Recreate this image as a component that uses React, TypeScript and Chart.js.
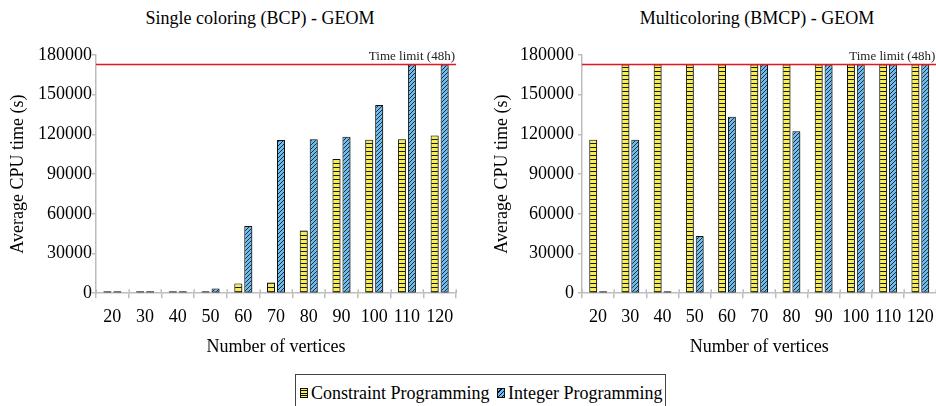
import React, { useEffect, useRef } from "react";
import { Chart, registerables } from "chart.js";

Chart.register(...registerables);

const FONT = "'Liberation Serif', 'Times New Roman', serif";

// ---- data ----
const vertices = ["20", "30", "40", "50", "60", "70", "80", "90", "100", "110", "120"];
const bcpConstraint = [40, 50, 60, 300, 7400, 8100, 47300, 101500, 116000, 116400, 119200];
const bcpInteger = [30, 40, 50, 3600, 50700, 115800, 116400, 118200, 142300, 172800, 172800];
const bmcpConstraint = [116000, 172800, 172800, 172800, 172800, 172800, 172800, 172800, 172800, 172800, 172800];
const bmcpInteger = [20, 116000, 20, 43200, 133400, 172800, 122300, 172800, 172800, 172800, 172800];
const yTicks = [0, 30000, 60000, 90000, 120000, 150000, 180000];
const timeLimit = 172800;
const timeLimitLabel = "Time limit (48h)";
const seriesNames = ["Constraint Programming", "Integer Programming"];
const panelTitles = ["Single coloring (BCP) - GEOM", "Multicoloring (BMCP) - GEOM"];

const YELLOW = "#f6ee52";
const BLUE = "#6fbdee";
const AXIS_GRAY = "#bdbdbd";

function makePattern(kind: "h" | "d"): CanvasPattern | string {
  const c = document.createElement("canvas");
  const s = 4;
  c.width = s;
  c.height = s;
  const g = c.getContext("2d");
  if (!g) return kind === "h" ? YELLOW : BLUE;
  if (kind === "h") {
    g.fillStyle = YELLOW;
    g.fillRect(0, 0, s, s);
    g.fillStyle = "rgba(0,0,0,0.9)";
    g.fillRect(0, 3, s, 1);
  } else {
    g.fillStyle = BLUE;
    g.fillRect(0, 0, s, s);
    g.strokeStyle = "rgba(0,0,0,0.85)";
    g.lineWidth = 0.9;
    g.beginPath();
    g.moveTo(-1, s + 1);
    g.lineTo(s + 1, -1);
    g.moveTo(-1, 1);
    g.lineTo(1, -1);
    g.moveTo(s - 1, s + 1);
    g.lineTo(s + 1, s - 1);
    g.stroke();
  }
  const p = g.createPattern(c, "repeat");
  return p || (kind === "h" ? YELLOW : BLUE);
}

const shadowPlugin = {
  id: "barShadow",
  beforeDatasetsDraw(chart: any) {
    const ctx = chart.ctx;
    ctx.save();
    ctx.shadowColor = "rgba(0,0,0,0.45)";
    ctx.shadowBlur = 2;
    ctx.shadowOffsetX = 1;
    ctx.shadowOffsetY = 1;
  },
  afterDatasetsDraw(chart: any) {
    chart.ctx.restore();
  },
};

const innerTickPlugin = {
  id: "innerTicks",
  afterDraw(chart: any) {
    const ctx = chart.ctx;
    const xs = chart.scales.x;
    const bottom = chart.chartArea.bottom;
    ctx.save();
    ctx.strokeStyle = AXIS_GRAY;
    ctx.lineWidth = 1.5;
    ctx.beginPath();
    for (let i = 0; i <= vertices.length; i++) {
      const x = Math.round(xs.getPixelForValue(i - 0.5)) + 0.25;
      ctx.moveTo(x, bottom - 4);
      ctx.lineTo(x, bottom);
    }
    ctx.stroke();
    ctx.restore();
  },
};

const limitPlugin = {
  id: "timeLimit",
  afterDatasetsDraw(chart: any) {
    const ctx = chart.ctx;
    const y = chart.scales.y.getPixelForValue(timeLimit);
    const { left, right } = chart.chartArea;
    ctx.save();
    ctx.strokeStyle = "#e4161c";
    ctx.lineWidth = 1.5;
    ctx.beginPath();
    ctx.moveTo(left, y);
    ctx.lineTo(right, y);
    ctx.stroke();
    ctx.font = `13px ${FONT}`;
    ctx.fillStyle = "#222";
    ctx.textAlign = "right";
    ctx.textBaseline = "alphabetic";
    ctx.fillText(timeLimitLabel, right - 1, y - 5);
    ctx.restore();
  },
};

type PanelProps = {
  cp: number[];
  ip: number[];
  left: number;
  width: number;
  padLeft: number;
  padRight: number;
  yTitlePad: { top: number; bottom: number };
  yTickPad: number;
};

function BarPanel(props: PanelProps) {
  const ref = useRef<HTMLCanvasElement>(null);
  useEffect(() => {
    if (!ref.current) return;
    const chart = new Chart(ref.current, {
      type: "bar",
      data: {
        labels: vertices,
        datasets: [
          {
            label: seriesNames[0],
            data: props.cp,
            backgroundColor: makePattern("h") as any,
            borderColor: "#111",
            borderWidth: 1,
            borderSkipped: false,
            minBarLength: 2,
          },
          {
            label: seriesNames[1],
            data: props.ip,
            backgroundColor: makePattern("d") as any,
            borderColor: "#111",
            borderWidth: 1,
            borderSkipped: false,
            minBarLength: 2,
          },
        ],
      },
      options: {
        animation: false,
        responsive: false,
        maintainAspectRatio: false,
        datasets: { bar: { categoryPercentage: 0.61, barPercentage: 0.8 } },
        layout: { padding: { top: 55, bottom: 0, left: props.padLeft, right: props.padRight } },
        plugins: {
          legend: { display: false },
          tooltip: { enabled: false },
          title: { display: false },
        },
        scales: {
          x: {
            offset: true,
            grid: { offset: true, drawOnChartArea: false, tickLength: 5, color: AXIS_GRAY, lineWidth: 1.5 },
            border: { color: AXIS_GRAY, width: 1.5 },
            ticks: {
              font: { family: FONT, size: 18 },
              color: "#000",
              padding: 8,
              maxRotation: 0,
              minRotation: 0,
              autoSkip: false,
            },
            title: {
              display: true,
              text: "Number of vertices",
              font: { family: FONT, size: 18 },
              color: "#000",
              padding: { top: 0.4, bottom: 2.2 },
            },
          },
          y: {
            min: 0,
            max: 180000,
            afterBuildTicks: (axis: any) => {
              axis.ticks = yTicks.map((v) => ({ value: v }));
            },
            grid: { drawOnChartArea: false, tickLength: 4, color: AXIS_GRAY, lineWidth: 1.5 },
            border: { color: AXIS_GRAY, width: 1.5 },
            ticks: {
              font: { family: FONT, size: 18 },
              color: "#000",
              padding: props.yTickPad,
              callback: (v: any) => String(v),
            },
            title: {
              display: true,
              text: "Average CPU time (s)",
              font: { family: FONT, size: 18 },
              color: "#000",
              padding: props.yTitlePad,
            },
          },
        },
      },
      plugins: [shadowPlugin, limitPlugin, innerTickPlugin],
    });
    return () => chart.destroy();
  }, []);
  return (
    <canvas
      ref={ref}
      width={props.width}
      height={360}
      style={{ position: "absolute", left: props.left, top: 0 }}
    />
  );
}

const swatchH = `repeating-linear-gradient(to bottom, ${YELLOW} 0px, ${YELLOW} 1.5px, #111 1.5px, #111 2.5px)`;
const swatchD = `repeating-linear-gradient(135deg, ${BLUE} 0px, ${BLUE} 2px, #111 2px, #111 3px)`;

export default function App() {
  const titleStyle: React.CSSProperties = {
    position: "absolute",
    top: 8,
    fontFamily: FONT,
    fontSize: 18,
    textAlign: "center",
    color: "#000",
    whiteSpace: "nowrap",
  };
  const legendText: React.CSSProperties = {
    position: "absolute",
    top: 8,
    fontFamily: FONT,
    fontSize: 18,
    color: "#000",
    whiteSpace: "nowrap",
  };
  const swatchBase: React.CSSProperties = {
    position: "absolute",
    top: 13,
    width: 8,
    height: 10,
    border: "1px solid #111",
    boxSizing: "border-box",
  };
  return (
    <div
      style={{
        position: "absolute",
        left: 0,
        top: 0,
        width: 936,
        height: 406,
        overflow: "hidden",
        background: "#fff",
      }}
    >
      <div style={{ ...titleStyle, left: 0, width: 520 }}>{panelTitles[0]}</div>
      <div style={{ ...titleStyle, left: 578, width: 358 }}>{panelTitles[1]}</div>
      <BarPanel
        cp={bcpConstraint}
        ip={bcpInteger}
        left={0}
        width={520}
        padLeft={3}
        padRight={64}
        yTitlePad={{ top: 4.2, bottom: 9.2 }}
        yTickPad={0}
      />
      <BarPanel
        cp={bmcpConstraint}
        ip={bmcpInteger}
        left={468}
        width={578}
        padLeft={19}
        padRight={109.6}
        yTitlePad={{ top: 4.2, bottom: 3.2 }}
        yTickPad={4}
      />
      <div
        style={{
          position: "absolute",
          left: 295,
          top: 374,
          width: 371,
          height: 40,
          border: "1px solid #444",
          boxSizing: "border-box",
          background: "#fff",
        }}
      >
        <div style={{ ...swatchBase, left: 4, background: swatchH }} />
        <span style={{ ...legendText, left: 15 }}>{seriesNames[0]}</span>
        <div style={{ ...swatchBase, left: 201, background: swatchD }} />
        <span style={{ ...legendText, left: 212 }}>{seriesNames[1]}</span>
      </div>
    </div>
  );
}
